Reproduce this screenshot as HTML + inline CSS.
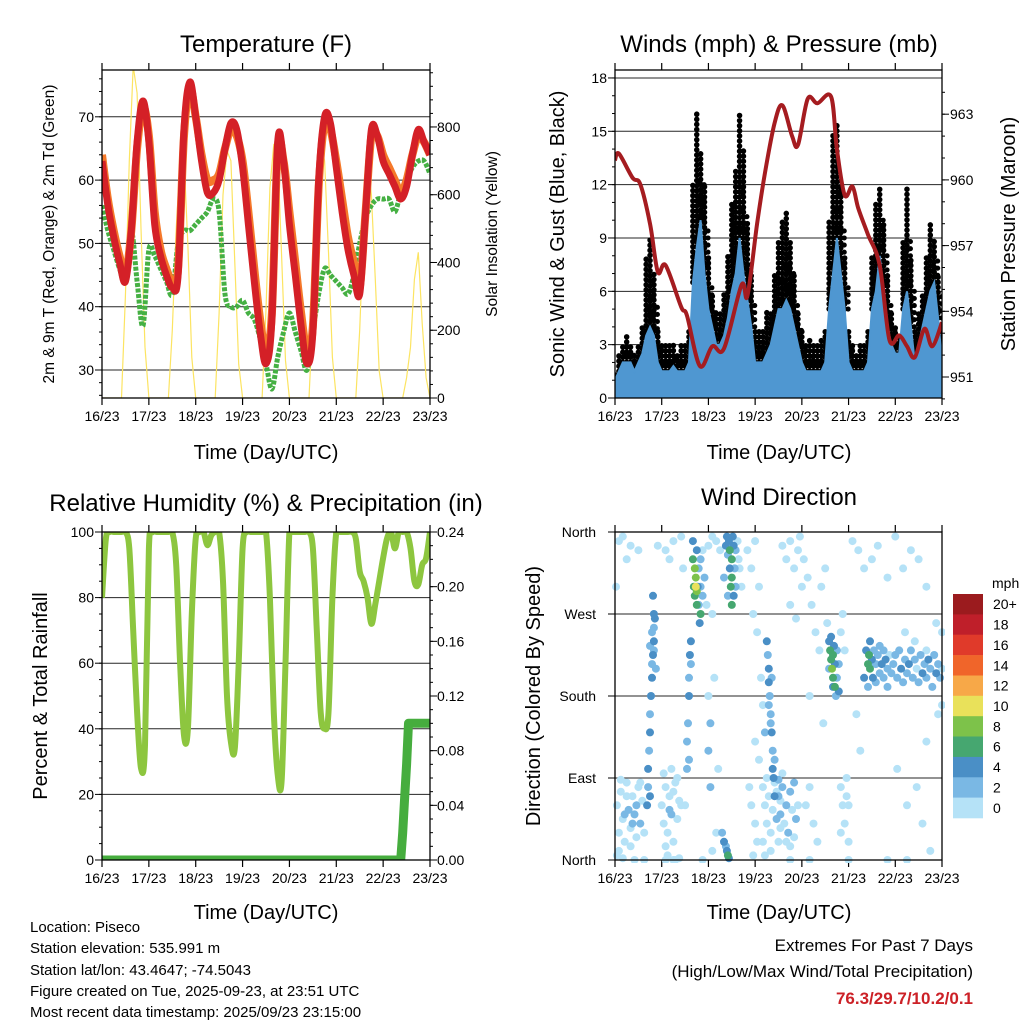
<!DOCTYPE html>
<html><head><meta charset="utf-8">
<style>
html,body{margin:0;padding:0;background:#fff;}
svg{display:block;font-family:"Liberation Sans",Arial,sans-serif;}
</style></head>
<body>
<svg id="svg" width="1024" height="1024" viewBox="0 0 1024 1024" xmlns="http://www.w3.org/2000/svg">
<defs>
<clipPath id="clipA"><rect x="102" y="70" width="328" height="328"/></clipPath>
<clipPath id="clipB"><rect x="615" y="70" width="327" height="328"/></clipPath>
<clipPath id="clipC"><rect x="102" y="532" width="328" height="328"/></clipPath>
<clipPath id="clipD"><rect x="612" y="529" width="333" height="334"/></clipPath>
</defs>
<g id="root"></g>
<text x="266" y="52" font-size="24" text-anchor="middle">Temperature (F)</text>
<text x="779" y="52" font-size="24" text-anchor="middle">Winds (mph) &amp; Pressure (mb)</text>
<text x="266" y="511" font-size="24" text-anchor="middle">Relative Humidity (%) &amp; Precipitation (in)</text>
<text x="779" y="505" font-size="24" text-anchor="middle">Wind Direction</text>
<text x="266" y="459" font-size="20" text-anchor="middle">Time (Day/UTC)</text>
<text x="779" y="459" font-size="20" text-anchor="middle">Time (Day/UTC)</text>
<text x="266" y="919" font-size="20" text-anchor="middle">Time (Day/UTC)</text>
<text x="779" y="919" font-size="20" text-anchor="middle">Time (Day/UTC)</text>
<text transform="translate(54,234) rotate(-90)" font-size="15.5" text-anchor="middle">2m &amp; 9m T (Red, Orange) &amp; 2m Td (Green)</text>
<text transform="translate(497,234) rotate(-90)" font-size="15.5" text-anchor="middle">Solar Insolation (Yellow)</text>
<text transform="translate(564,234) rotate(-90)" font-size="20" text-anchor="middle">Sonic Wind &amp; Gust (Blue, Black)</text>
<text transform="translate(1015,234) rotate(-90)" font-size="20" text-anchor="middle">Station Pressure (Maroon)</text>
<text transform="translate(47,696) rotate(-90)" font-size="20" text-anchor="middle">Percent &amp; Total Rainfall</text>
<text transform="translate(540,696) rotate(-90)" font-size="20" text-anchor="middle">Direction (Colored By Speed)</text>
<g font-size="15">
<text x="30" y="932">Location: Piseco</text>
<text x="30" y="953">Station elevation: 535.991 m</text>
<text x="30" y="975">Station lat/lon: 43.4647; -74.5043</text>
<text x="30" y="996">Figure created on Tue, 2025-09-23, at 23:51 UTC</text>
<text x="30" y="1017">Most recent data timestamp: 2025/09/23 23:15:00</text>
</g>
<text x="973" y="951" font-size="17" text-anchor="end">Extremes For Past 7 Days</text>
<text x="973" y="977" font-size="17" text-anchor="end">(High/Low/Max Wind/Total Precipitation)</text>
<text x="973" y="1004" font-size="17" font-weight="bold" fill="#cc2127" text-anchor="end">76.3/29.7/10.2/0.1</text>
</svg>
<script>
// ---------- data ----------
const dayLabels = ["16/23","17/23","18/23","19/23","20/23","21/23","22/23","23/23"];
const tempTicks = [30,40,50,60,70];
const solarTicks = [0,200,400,600,800];
const windTicks = [0,3,6,9,12,15,18];
const presTicks = [951,954,957,960,963];
const rhTicks = [0,20,40,60,80,100];
const rainTicks = ["0.00","0.04","0.08","0.12","0.16","0.20","0.24"];
const dirLabels = ["North","East","South","West","North"];
const legendLabels = ["0","2","4","6","8","10","12","14","16","18","20+"];
const legendColors = ["#b5e2f7","#7ab8e4","#4a8fc6","#46a770","#7dc24a","#e9e15a","#f7a848","#f0652a","#e03a2a","#bf1f2a","#9b1b1e"];

// temperatures every 3 h
const tHours3 = [0,3,6,9,12,15,18,21,24,27,30,33,36,39,42,45,48,51,54,57,60,63,66,69,72,75,78,81,84,87,90,93,96,99,102,105,108,111,114,117,120,123,126,129,132,135,138,141,144,147,150,153,156,159,162,165,168];
const temp2m = [63,56,51,47,44,52,66,72.5,66,53,48,45,43,45,68,75.5,70,63,58,58,60,65,69,68,62,53,44,36,31,38,66,63,53,45,37,31,36,60,70,69,62,55,49,45,42,55,68,67,63,61,59,57,59,64,68,66,64];
const temp9m = [64,57,52,48,45,52,65,71.5,67,55,49,46,44,46,67,74.5,70,64,60,60,61,65,68,67,63,55,46,38,33,39,65,63,55,47,39,33,37,59,69,68,63,57,51,47,43,55,67,67,64,62,60,58,60,64,67,66,64];
const dewpt = [56,52,49,46,44,52,44,37,49,48,46,44,42,50,52,52,53,54,55,57,55,42,40,40,41,39,38,35,31,27,32,36,39,36,33,30,36,42,46,45,44,43,42,45,50,54,56,57,57,57,55,58,60,62,63,63,61];

// solar every 2 h
const sHours = [];
for (let i = 0; i <= 84; i++) sHours.push(i*2);
const solar = [
0,0,0,0,0,0,300,700,980,900,500,150,
0,0,0,0,0,0,200,500,700,710,450,120,
0,0,0,0,0,0,250,600,730,700,400,100,
0,0,0,0,0,0,260,620,750,720,420,110,
0,0,0,0,0,0,250,600,750,700,430,120,
0,0,0,0,0,0,200,500,700,600,350,80,
0,0,0,0,0,0,60,150,350,430,220,60,0];

// winds every 2 h
const windSust = [1,1.5,2,2,2,1.5,2,2.5,3.5,4,3.5,2,1.5,1.5,1.5,1.8,1.5,1.5,1.5,2,6.5,8.5,10,7,5,4,3,3,3.5,4.5,6,7,9,7,5.5,4,2,2,2,2.5,3,4,5,5,5.5,5,4,3,2,1.5,1.5,1.5,1.5,1.5,2,5,7,9,7,5,2,1.5,1.5,1.5,1.5,2,5,6,8,6,4,3,2.5,2.5,5,6,4,2,3,4,5,6,6.5,4.5,2];
const windGust = [1.5,2.5,3,3.5,3,2.5,3,4,8,9,7,4,3,3,3,3,2.5,3,3,4,12,16,14,12,8,6,5,5,6,8,11,13,16,14,10,7,4,4,4,5,5,7,9,10,10.5,9,7,5,4,3,3.5,3,3,3.5,4,10,15,15.5,12,8,4,3,2.5,3,3,4,8,11,12,10,7,5,4,3.5,9,12,8,4,5,6,8,10,9,7,4];
const presHours = [0,2,9,13,18,22,26,34,37,43.6,50,56,65,68,73,77,82,86,91,94,99,104,111,114,118,122,125,130,136,141,146,150,154,159,163,168];
const pressure = [960.9,961.2,960.1,959.8,958,955.8,956.1,954.2,953.8,951.5,952.4,952.3,955.2,954.7,958,960.3,962.6,963.4,962,961.6,963.7,963.5,963.8,961.4,959.3,959.7,958.7,957.5,956.1,952.7,952.9,952.4,951.9,953.2,952.4,953.5];

// humidity every 2 h
const rh = [80,98,100,100,100,100,100,95,70,45,28,35,
95,100,100,100,100,100,100,90,60,38,40,75,
98,100,100,96,99,100,100,85,50,36,34,60,
95,100,100,100,100,100,100,80,45,26,24,60,
100,100,100,100,100,100,95,70,45,40,45,80,
100,100,100,100,100,98,88,85,80,72,78,85,
92,98,100,95,100,100,100,95,85,84,90,92,100];
const rainHours = [0,153,154,155,156,157,168];
const rain = [0,0,0.02,0.045,0.07,0.1,0.1];

// wind direction scatter: hours, degrees, speed mph
const dirT = [1,2,3,4,5,6,7,8,9,10,11,12,13,14,2,5,8,11,3,9,13,1,15,6,4,2,4,8,12,0.5,6,
17,17.5,18,18,18.5,19,19,19.5,20,20,20.5,18,19,20,21,17,16.5,18,19.5,20,
24,25,26,27,28,29,30,31,32,33,26,28,30,32,25,29,34,27,31,33,22,26,30,34,28,35,
37,37.5,38,38,38.5,39,37,39,38,36,
40,40.5,41,41,41.5,42,42,42.5,43,43,43.5,44,44,45,45,46,47,41.5,42,40,44,
48,50,52,54,50,52,49,48,49,48,50,51,53,
57,57.5,58,58.5,59,59,59.5,60,60,60.5,61,61,61.5,62,62,63,63.5,58,60,56,64,65,
56,57,57.5,58,58.5,55,
68,70,72,74,71,73,75,76,77,72,74,69,70,72,73,71,
78,78.5,79,79,79.5,80,80,80.5,81,81,81.5,82,82,79,80.5,
76,77,78,79,80,81,82,83,84,85,76,78,80,83,85,77,
84,85,86,87,88,89,90,91,92,93,88,90,86,84,92,94,
86,88,90,92,94,96,95,90,93,
97,99,101,103,105,98,100,102,104,106,108,109,107,100,
110,110.5,111,111,111.5,112,112,112.5,113,113,113.5,114,114,115,115,116,117,118,110,112,
116,117,118,119,120,116,119,120,
129,130,130.5,131,131,132,132.5,133,134,134,135,136,136,137,138,138,139,140,140,141,142,128,130,
143,144,145,146,147,148,149,150,151,152,153,154,155,156,157,158,159,160,161,162,163,164,165,166,167,168,160,154,149,
122,125,128,132,135,140,144,148,152,156,160,165,145,150,155,158,160,166,162,126,124,168,168,
10,15,26,30,45,90,100,120,140,150];
const dirD = [60,30,75,45,20,85,55,35,70,50,25,80,40,65,10,50,15,60,88,40,85,5,30,70,2,350,355,345,340,300,330,
100,120,140,160,180,200,215,225,240,255,265,235,250,230,210,80,60,70,290,270,
60,40,80,30,70,50,20,85,45,65,15,55,75,90,95,100,60,5,0,2,345,340,350,355,330,320,
130,150,180,200,225,215,100,240,110,60,
330,300,320,290,310,280,340,300,320,280,260,300,330,290,340,310,280,300,295,350,270,
345,355,350,340,10,30,80,120,150,180,270,200,100,
345,355,335,350,320,340,300,310,330,355,345,290,320,340,300,350,330,290,280,310,320,300,
20,15,10,5,2,30,
340,320,350,300,270,250,200,170,140,130,110,80,60,40,20,5,
240,225,210,195,180,160,150,140,120,100,90,70,110,170,200,
80,60,40,70,30,55,85,45,20,65,20,90,10,75,35,5,
70,50,80,40,60,30,75,55,85,45,20,15,95,88,25,60,
345,330,350,320,340,300,355,280,265,
330,310,280,250,230,60,80,40,20,300,320,260,150,180,
240,230,220,245,210,225,200,235,215,190,180,200,230,215,185,250,270,230,210,190,
80,60,40,70,20,30,90,60,
230,215,225,210,240,220,200,230,215,195,225,205,235,215,200,230,220,210,190,225,205,200,190,
215,225,200,230,210,195,220,205,215,230,200,220,210,195,225,205,215,200,220,210,190,225,205,215,200,210,230,240,250,
350,340,320,330,345,310,355,320,340,330,300,260,100,60,80,40,130,160,10,120,160,250,170,
0,0,0,0,0,0,0,0,0,0];
const dirS = [0,0,1,1,0,0,2,1,0,2,0,1,2,1,0,2,0,3,0,3,1,0,1,1,0,0,0,0,1,0,0,
4,3,4,3,4,4,3,5,4,3,4,3,2,2,2,3,4,5,5,4,
1,0,1,1,0,2,0,1,0,1,0,2,1,0,1,1,0,0,0,0,0,0,1,0,0,1,
3,3,4,3,4,2,2,4,2,1,
6,7,8,6,9,7,5,4,3,3,5,3,2,2,1,2,1,10,8,4,6,
1,0,1,0,0,1,2,2,3,1,1,0,0,
4,4,3,5,4,6,6,7,6,5,4,5,3,2,2,1,1,3,6,2,1,0,
4,3,4,6,4,2,
0,1,0,0,1,0,1,1,2,1,1,0,1,0,1,0,
4,3,4,4,3,3,2,4,3,5,4,4,3,2,2,
1,0,1,0,1,0,1,2,0,1,0,1,1,0,1,0,
2,3,2,1,3,2,2,1,3,2,1,1,1,2,0,1,
1,0,1,0,1,0,0,1,1,
0,0,0,1,0,0,1,0,0,0,1,0,0,0,
4,6,7,5,8,7,6,5,4,6,3,3,2,2,4,1,1,1,3,4,
1,0,1,0,1,0,1,0,
4,6,7,6,5,4,5,3,2,3,2,3,2,4,3,2,4,3,2,1,2,4,3,
2,3,2,3,4,2,3,2,4,2,3,2,1,3,2,4,3,2,4,3,2,3,4,2,3,1,1,1,1,
0,1,0,0,1,0,0,1,0,1,0,1,0,1,1,0,0,0,0,0,0,0,0,
0,0,0,0,0,0,0,0,0,0];

// ---------- helpers ----------
const NS = "http://www.w3.org/2000/svg";
const root = document.getElementById("root");
function mk(tag, attrs, parent) {
  const e = document.createElementNS(NS, tag);
  for (const k in attrs) e.setAttribute(k, attrs[k]);
  (parent || root).appendChild(e);
  return e;
}
const xA = h => 102 + h / 168 * 328;
const xB = h => 615 + h / 168 * 327;
const yT = v => 370 - (v - 30) * 6.33;
const yS = v => 398 - v * 0.3388;
const yW = v => 398 - v * 17.78;
const yP = p => 377 - (p - 951) * 21.9;
const yR = v => 860 - v * 3.28;
const yPr = v => 860 - v / 0.24 * 328;
const yD = d => 860 - d * 328 / 360;
function binColor(s) { return legendColors[Math.min(10, Math.max(0, Math.floor(s / 2)))]; }
function pathOf(xs, ys, fx, fy) {
  let d = "";
  for (let i = 0; i < xs.length; i++) d += (i ? "L" : "M") + fx(xs[i]).toFixed(1) + "," + fy(ys[i]).toFixed(1);
  return d;
}
// smooth (Catmull-Rom) path through the data points
function smoothOf(xs, ys, fx, fy) {
  const P = xs.map((x, i) => [fx(x), fy(ys[i])]);
  let d = "M" + P[0][0].toFixed(1) + "," + P[0][1].toFixed(1);
  for (let i = 0; i < P.length - 1; i++) {
    const p0 = P[Math.max(0, i - 1)], p1 = P[i], p2 = P[i + 1], p3 = P[Math.min(P.length - 1, i + 2)];
    const c1x = p1[0] + (p2[0] - p0[0]) / 6, c1y = p1[1] + (p2[1] - p0[1]) / 6;
    const c2x = p2[0] - (p3[0] - p1[0]) / 6, c2y = p2[1] - (p3[1] - p1[1]) / 6;
    d += "C" + c1x.toFixed(1) + "," + c1y.toFixed(1) + " " + c2x.toFixed(1) + "," + c2y.toFixed(1) + " " + p2[0].toFixed(1) + "," + p2[1].toFixed(1);
  }
  return d;
}

// ---------- frames, grids, ticks ----------
function frame(x0, y0, w, h, xfun, name) {
  const g = mk("g", {});
  
  
  for (let i = 0; i < dayLabels.length; i++) {
    const x = x0 + i * w / 7;
    const t1 = mk("line", {x1: x, x2: x, y1: y0 + h, y2: y0 + h + 7, stroke: "#000", "stroke-width": 1.2}, g);
    
    
    const t2 = mk("line", {x1: x, x2: x, y1: y0, y2: y0 - 7, stroke: "#000", "stroke-width": 1.2}, g);
    
    
    const lb = mk("text", {x: x, y: y0 + h + 23, "font-size": 14, "text-anchor": "middle"}, g);
    lb.textContent = dayLabels[i];
    
    
  }
  return g;
}
function box(x0, y0, w, h, name) {
  const r = mk("rect", {x: x0, y: y0, width: w, height: h, fill: "none", stroke: "#000", "stroke-width": 1.3});
  
  
}
function hgrid(y, x0, x1) {
  const l = mk("line", {x1: x0, x2: x1, y1: y, y2: y, stroke: "#000", "stroke-width": 1, opacity: 0.85});
  
  
}
function ylab(txt, x, y, anchor) {
  const t = mk("text", {x: x, y: y + 5, "font-size": 14, "text-anchor": anchor});
  t.textContent = txt;
  
  
}
function ytick(x, y, dir, len) {
  const l = mk("line", {x1: x, x2: x + dir * len, y1: y, y2: y, stroke: "#000", "stroke-width": 1});
  
  
}

// Panel A: temperature
frame(102, 70, 328, 328, xA, "temperature");
tempTicks.forEach(v => { hgrid(yT(v), 102, 430); ylab(String(v), 94, yT(v), "end"); ytick(102, yT(v), -1, 7); });
for (let v = 26; v <= 76; v += 2) ytick(102, yT(v), -1, 3);
solarTicks.forEach(v => { ylab(String(v), 437, yS(v), "start"); ytick(430, yS(v), 1, 7); });
for (let v = 0; v <= 960; v += 40) ytick(430, yS(v), 1, 3);
const gA = mk("g", {"clip-path": "url(#clipA)"});


const solarLine = mk("path", {d: pathOf(sHours, solar, xA, yS), fill: "none", stroke: "#fce462", "stroke-width": 1.2}, gA);


const dewLine = mk("path", {d: smoothOf(tHours3, dewpt, xA, yT), fill: "none", stroke: "#45b043", "stroke-width": 5, "stroke-dasharray": "4 1.5", "stroke-linejoin": "round"}, gA);


const t9Line = mk("path", {d: smoothOf(tHours3, temp9m, xA, yT), fill: "none", stroke: "#f5792a", "stroke-width": 8, "stroke-linejoin": "round"}, gA);


const t2Line = mk("path", {d: smoothOf(tHours3, temp2m, xA, yT), fill: "none", stroke: "#d42027", "stroke-width": 7, "stroke-linejoin": "round"}, gA);


box(102, 70, 328, 328, "temperature");

// Panel B: winds
frame(615, 70, 327, 328, xB, "winds");
windTicks.forEach(v => { hgrid(yW(v), 615, 942); ylab(String(v), 607, yW(v), "end"); ytick(615, yW(v), -1, 7); });
for (let v = 0; v <= 18; v += 1) ytick(615, yW(v), -1, 3);
presTicks.forEach(v => { ylab(String(v), 950, yP(v), "start"); ytick(942, yP(v), 1, 7); });
for (let v = 950; v <= 964; v += 1) ytick(942, yP(v), 1, 3);
const gB = mk("g", {"clip-path": "url(#clipB)"});


for (let i = 0; i < sHours.length; i++) {
  const x = xB(sHours[i]);
  const gs = mk("line", {x1: x, x2: x, y1: yW(windSust[i]), y2: yW(windGust[i]), stroke: "#000", "stroke-width": 5.5, "stroke-linecap": "round", "stroke-dasharray": "0.1 5"}, gB);
  
  
  const gs2 = mk("line", {x1: x + 3.5, x2: x + 3.5, y1: yW(windSust[i]), y2: yW((windSust[i] + windGust[i]) / 2), stroke: "#000", "stroke-width": 5, "stroke-linecap": "round", "stroke-dasharray": "0.1 7"}, gB);
  
  
}
let dArea = "M" + xB(0) + "," + yW(0);
for (let i = 0; i < sHours.length; i++) dArea += "L" + xB(sHours[i]).toFixed(1) + "," + yW(windSust[i]).toFixed(1);
dArea += "L" + xB(168) + "," + yW(0) + "Z";
const windArea = mk("path", {d: dArea, fill: "#4f97d1", stroke: "#4f97d1", "stroke-width": 2}, gB);


const presLine = mk("path", {d: smoothOf(presHours, pressure, xB, yP), fill: "none", stroke: "#a51c20", "stroke-width": 4, "stroke-linejoin": "round"}, gB);


box(615, 70, 327, 328, "winds");

// Panel C: humidity
frame(102, 532, 328, 328, xA, "humidity");
rhTicks.forEach(v => { hgrid(yR(v), 102, 430); ylab(String(v), 94, yR(v), "end"); ytick(102, yR(v), -1, 7); });
for (let v = 0; v <= 100; v += 5) ytick(102, yR(v), -1, 3);
rainTicks.forEach(v => { ylab(v, 437, yPr(parseFloat(v)), "start"); ytick(430, yPr(parseFloat(v)), 1, 7); });
for (let v = 0; v <= 0.24; v += 0.01) ytick(430, yPr(v), 1, 3);
const gC = mk("g", {"clip-path": "url(#clipC)"});


const rhLine = mk("path", {d: smoothOf(sHours, rh, xA, yR), fill: "none", stroke: "#8dc63f", "stroke-width": 6, "stroke-linejoin": "round"}, gC);


const rainLine = mk("path", {d: pathOf(rainHours, rain, xA, yPr), fill: "none", stroke: "#46ad3e", "stroke-width": 9, "stroke-linejoin": "round"}, gC);


box(102, 532, 328, 328, "humidity");

// Panel D: direction
frame(615, 532, 327, 328, xB, "direction");
dirLabels.forEach((v, i) => { const y = yD(i * 90); hgrid(y, 615, 942); ylab(v, 596, y, "end"); ytick(615, y, -1, 7); });
const gD = mk("g", {"clip-path": "url(#clipD)"});


const order = dirS.map((s, i) => i).sort((a, b) => dirS[a] - dirS[b]);
order.forEach(i => {
  const c = mk("circle", {cx: xB(dirT[i]).toFixed(1), cy: yD(dirD[i]).toFixed(1), r: 4, fill: binColor(dirS[i])}, gD);
  
  
});
box(615, 532, 327, 328, "direction");

// legend
const lg = mk("g", {});


const mph = mk("text", {x: 992, y: 588, "font-size": 14}, lg);
mph.textContent = "mph";


const bh = 224 / 11;
for (let i = 0; i < 11; i++) {
  const k = 10 - i;
  const y = 594 + i * bh;
  const r = mk("rect", {x: 953, y: y.toFixed(1), width: 30, height: (bh + 0.3).toFixed(1), fill: legendColors[k]}, lg);
  
  
  const t = mk("text", {x: 993, y: (y + bh / 2 + 5).toFixed(1), "font-size": 14}, lg);
  t.textContent = legendLabels[k];
  
  
}
</script>
</body></html>
